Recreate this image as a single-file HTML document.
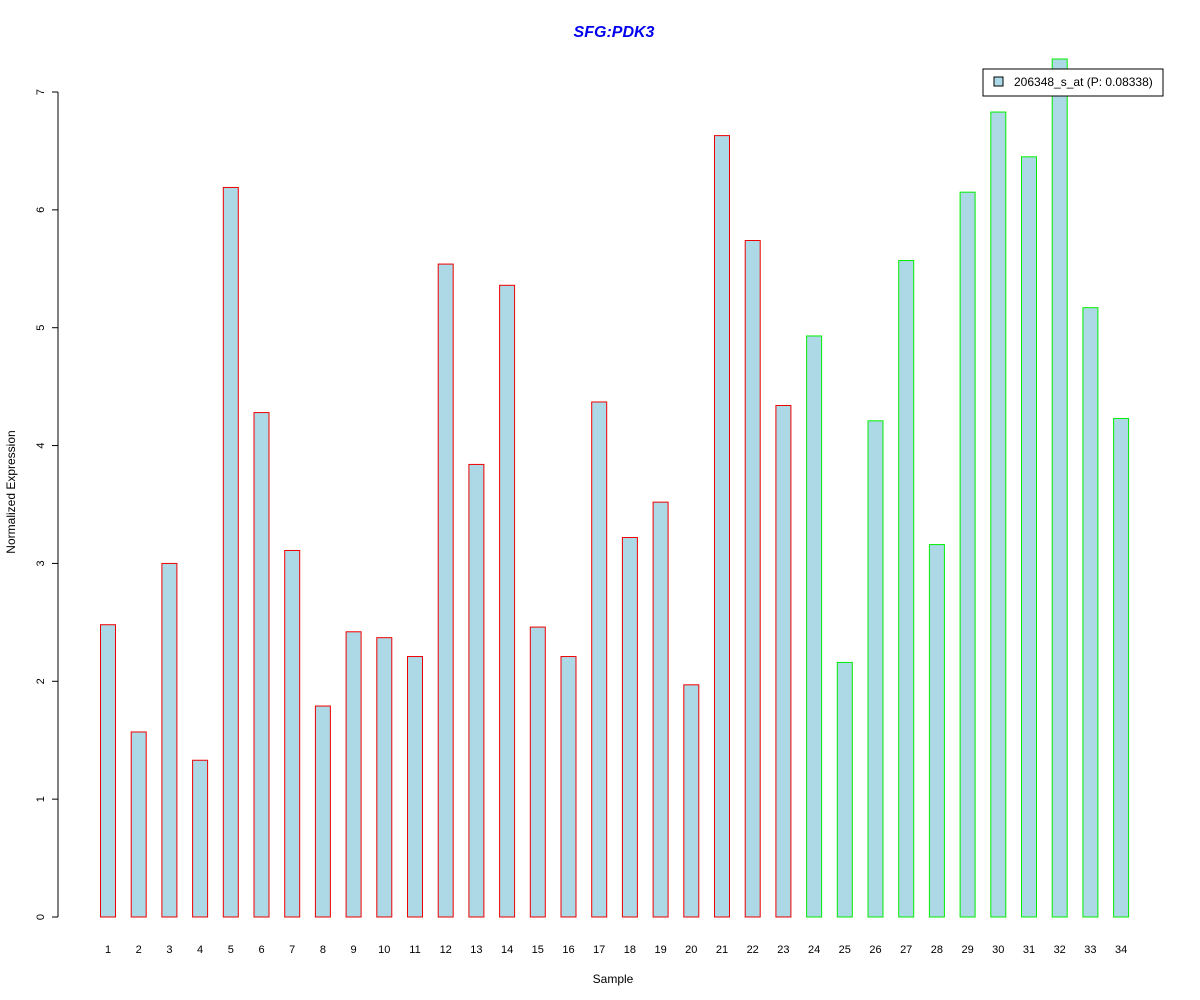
<!DOCTYPE html>
<html><head><meta charset="utf-8"><style>
body{margin:0;background:#fff}
svg{display:block;font-family:"Liberation Sans",Arial,sans-serif}
</style></head><body>
<svg id="chart" width="1200" height="1000" xmlns="http://www.w3.org/2000/svg">
<rect width="1200" height="1000" fill="#fff"/>
<text x="614" y="37" text-anchor="middle" font-size="16" font-weight="bold" font-style="italic" fill="#0000ee">SFG:PDK3</text>
<text x="613" y="983" text-anchor="middle" font-size="12">Sample</text>
<text transform="translate(15,492) rotate(-90)" text-anchor="middle" font-size="12">Normalized Expression</text>
<g id="yaxis"></g>
<g id="bars"></g>
<g id="xlabels"></g>
<g>
<rect x="983" y="69" width="180" height="27" fill="#fff" stroke="#000"/>
<rect x="994" y="77" width="9" height="9" fill="#add8e6" stroke="#000"/>
<text x="1014" y="86" font-size="12">206348_s_at (P: 0.08338)</text>
</g>
</svg>
<script>
const categories=["1","2","3","4","5","6","7","8","9","10","11","12","13","14","15","16","17","18","19","20","21","22","23","24","25","26","27","28","29","30","31","32","33","34"];
const values=[2.48,1.57,3.00,1.33,6.19,4.28,3.11,1.79,2.42,2.37,2.21,5.54,3.84,5.36,2.46,2.21,4.37,3.22,3.52,1.97,6.63,5.74,4.34,4.93,2.16,4.21,5.57,3.16,6.15,6.83,6.45,7.28,5.17,4.23];
const groups=["a","a","a","a","a","a","a","a","a","a","a","a","a","a","a","a","a","a","a","a","a","a","a","b","b","b","b","b","b","b","b","b","b","b"];
const yTicks=[0,1,2,3,4,5,6,7];
const NS="http://www.w3.org/2000/svg";
const y=v=>917-v*117.857;
const x=i=>100+i*30.7;
const ya=document.getElementById('yaxis');
function mk(t,a,p){const e=document.createElementNS(NS,t);for(const k in a)e.setAttribute(k,a[k]);p.appendChild(e);return e;}
mk('line',{x1:58,x2:58,y1:y(0),y2:y(7),stroke:'#000'},ya);
yTicks.forEach(v=>{
 const l=mk('line',{x1:52,x2:58,y1:y(v),y2:y(v),stroke:'#000'},ya);
 
 
 const t=mk('text',{transform:`translate(44,${y(v)}) rotate(-90)`,'text-anchor':'middle','font-size':11},ya);
 t.textContent=v;
 
 
});
const bg=document.getElementById('bars'),xl=document.getElementById('xlabels');
values.forEach((v,i)=>{
 const r=mk('rect',{x:x(i)+0.5,y:y(v),width:15,height:y(0)-y(v),fill:'#add8e6',stroke:groups[i]==='a'?'#ee0000':'#00ee00'},bg);
 
 
 const t=mk('text',{x:x(i)+8,y:953,'text-anchor':'middle','font-size':11},xl);
 t.textContent=categories[i];
 
 
});
</script>
</body></html>
